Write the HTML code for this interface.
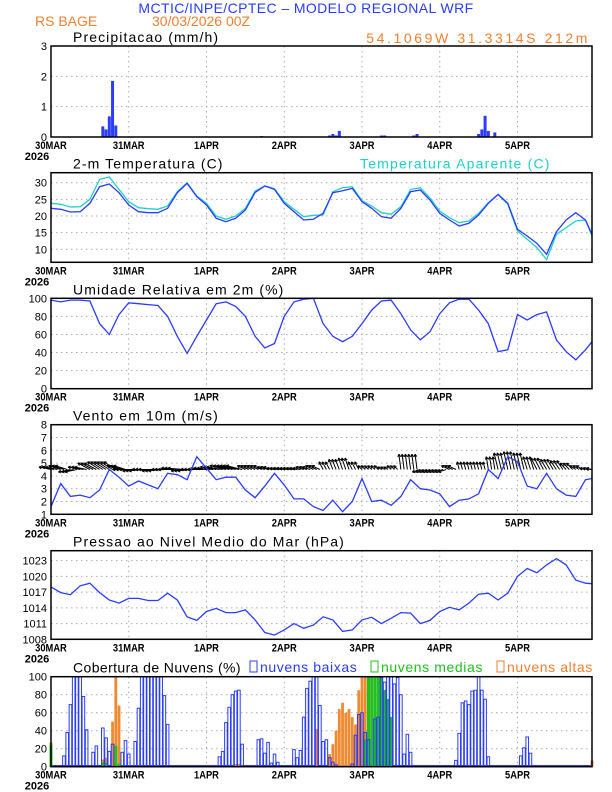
<!DOCTYPE html>
<html><head><meta charset="utf-8"><style>
body{margin:0;background:#fff}
svg{display:block;font-family:"Liberation Sans",sans-serif}
</style></head><body>
<svg id="c" width="612" height="792" xmlns="http://www.w3.org/2000/svg">
<text x="306" y="13" text-anchor="middle" font-size="14" letter-spacing="0.4" fill="#2a3cff">MCTIC/INPE/CPTEC – MODELO REGIONAL WRF</text>
<text x="35" y="26" font-size="14" fill="#f08030">RS BAGE</text>
<text x="152" y="26" font-size="14" fill="#f08030">30/03/2026 00Z</text>
<text x="590" y="43" text-anchor="end" font-size="14" letter-spacing="2.6" fill="#f08030">54.1069W 31.3314S 212m</text>
</svg>
<script>
const precipHours=[16,17,18,19,20,65,86,87,88,89,102,103,112,113,132,133,134,135,137];
const precipVals=[0.35,0.25,0.68,1.85,0.38,0.03,0.05,0.1,0.05,0.2,0.05,0.05,0.05,0.1,0.1,0.25,0.7,0.2,0.15];
const hours3=[0,3,6,9,12,15,18,21,24,27,30,33,36,39,42,45,48,51,54,57,60,63,66,69,72,75,78,81,84,87,90,93,96,99,102,105,108,111,114,117,120,123,126,129,132,135,138,141,144,147,150,153,156,159,162,165,167];
const tempVals=[22.3,22,21.2,21.3,23.8,28.8,29.6,27,23.3,21.3,21,21,22.3,27,29.8,25.8,23.3,19.3,18.3,19.3,21.8,27.1,29,28,23.8,21.3,18.8,19,20.8,27,27.6,28.3,24.3,22.3,19.8,19.3,22.3,27.3,27.8,24.8,20.8,18.8,17,17.8,20.3,23.8,26.5,23.8,16,14,11.8,8.5,15.3,18.8,21,18.8,14.5];
const appTempVals=[23.8,23.5,22.7,22.8,25,31,31.7,28,24.3,22.5,22.2,22,23,27.3,30,26,23.8,20,19,20,22.3,27.5,29,28.2,24.3,22,19.8,20.2,20.3,27.3,28.5,28.8,24.6,23,21,20.5,22.8,28,28.5,25.4,21.5,19.5,18,18.5,20.8,24,26.5,23.5,15.5,13,10.5,6.9,14.5,16.5,18.5,18.8,14];
const humVals=[98,96,98,98,97,72,60,82,95,94,93,92,80,58,39,58,76,94,96,91,80,58,45,50,80,96,99,100,72,58,52,58,72,87,97,98,83,65,54,63,83,95,99,99,87,72,41,43,82,76,82,85,54,41,32,43,52];
const windVals=[1.6,3.4,2.4,2.5,2.3,2.9,4.5,3.9,3.2,3.6,3.3,3.0,4.2,4.1,3.7,5.5,4.6,3.7,3.9,3.9,2.9,2.3,3.2,4.2,3.3,2.2,2.2,1.6,1.3,2.1,1.2,2.0,3.8,2.0,2.1,1.7,2.4,3.7,3.0,2.9,2.6,1.6,2.1,2.2,2.6,4.5,3.8,5.5,5.1,3.2,3.0,4.2,3.0,2.5,2.4,3.7,3.8];
const windU=[-3,-3,-3,-3,-3,-3,-3,-3,-4,-4,-4,-4,-4,-4,-4,-4,-4,-4,-4,-4,-2,-2,-2,-2,-2,-2,-2,-2,-1,-1,-1,-1,-1,-1,-1,-1,-0.5,-0.5,-2,-2,-2,-2,-0.5,-0.5,-0.5,-0.5,-1,-1,-1,-1,-1.5,-1.5,-1.5,-1.5,-1.5,-1.5,-1.5];
const windV=[0.2,0.3,-0.2,0.2,0.5,0.6,0.6,0.3,0,-0.1,0,-0.1,0,0.1,-0.1,0,0.1,0.2,0.3,0.3,0.3,0.3,0.2,0.1,0.1,0.1,0.2,0.3,0.6,0.8,0.9,0.6,0.3,0.3,0.2,0.3,1.2,1.2,-0.2,-0.2,-0.2,0.3,0.6,0.6,0.6,1.0,1.3,1.4,1.3,1.0,0.9,0.8,0.7,0.5,0.3,0.1,0.05];
const presVals=[1018,1016.9,1016.5,1018.2,1018.7,1016.9,1015.5,1014.9,1015.8,1015.8,1015.4,1015.4,1016.8,1015.5,1012.3,1011.6,1013.3,1013.9,1013.1,1013.1,1013.6,1011.7,1009.3,1008.8,1009.8,1011,1010.1,1010.7,1012.3,1011.7,1009.5,1009.8,1011.7,1012.2,1011,1012,1013.1,1013,1011,1011.6,1013.3,1014.1,1013.6,1014.9,1016.6,1016.8,1015.5,1016.8,1020,1021.5,1020.7,1022.2,1023.4,1022.2,1019.3,1018.7,1018.6];
const lowHours=[4,5,6,7,8,9,10,11,12,13,14,16,17,18,19,22,23,24,26,27,28,29,30,31,32,33,34,35,36,52,53,54,55,56,57,58,59,64,65,66,67,68,69,70,75,76,77,78,79,80,81,82,83,84,85,86,87,88,93,94,95,96,97,98,100,101,102,103,104,105,106,107,108,109,110,111,125,126,127,128,129,130,131,132,133,134,135,144,145,146,147,148];
const lowVals=[12,38,69,100,100,100,78,41,1,16,23,43,32,17,25,16,29,14,28,65,100,100,100,100,100,100,100,79,47,11,17,49,66,80,84,85,25,30,31,15,27,4,14,5,19,10,18,55,87,95,100,100,68,28,30,10,5,2,3,35,58,60,38,30,53,55,99,94,100,100,92,99,80,14,36,16,7,37,71,73,69,84,85,100,85,75,11,1,12,21,33,15];
const midHours=[0,16,17,20,21,97,98,99,100,101,102,103,104,105,133];
const midVals=[24,4,4,23,3,30,100,100,100,100,100,85,75,55,1];
const highHours=[0,16,17,19,20,21,57,58,82,86,87,88,89,90,91,92,93,94,95,96,97,98,99,100,167];
const highVals=[27,8,10,50,100,68,3,3,42,14,25,40,64,71,60,64,55,47,85,100,100,100,100,60,7];
const dayLabels=["30MAR","31MAR","1APR","2APR","3APR","4APR","5APR"];
const precipTicks=[0,1,2,3],tempTicks=[10,15,20,25,30],humTicks=[0,20,40,60,80,100],windTicks=[1,2,3,4,5,6,7,8],presTicks=[1008,1011,1014,1017,1020,1023],cloudTicks=[0,20,40,60,80,100];

const svg=document.getElementById('c');const NS='http://www.w3.org/2000/svg';
const X0=51,X1=592,PXH=(X1-X0)/167;
const xs=h=>X0+h*PXH;
function mk(tag,attrs,parent){const e=document.createElementNS(NS,tag);for(const k in attrs)e.setAttribute(k,attrs[k]);(parent||svg).appendChild(e);return e;}
function panel(name,title,top,bot,vmin,vmax,ticks,ls){
  const g=mk('g',{});
  
  
  const ys=v=>bot-(v-vmin)/(vmax-vmin)*(bot-top);
  for(let d=1;d<7;d++){const l=mk('line',{x1:xs(d*24),x2:xs(d*24),y1:top,y2:bot,stroke:'#aaa','stroke-dasharray':'1.5,3.5'},g);
    
    }
  ticks.forEach(t=>{const yy=ys(t);
    if(yy>top+1&&yy<bot-1){const l=mk('line',{x1:X0,x2:X1,y1:yy,y2:yy,stroke:'#aaa','stroke-dasharray':'1.5,3.5'},g);
      
      }
    const tx=mk('text',{x:X0-4,y:yy+4,'text-anchor':'end','font-size':11},g);tx.textContent=t;
    
    
  });
  dayLabels.forEach((d,i)=>{const tx=mk('text',{x:xs(i*24),y:bot+12,'text-anchor':'middle','font-size':11,'font-weight':'bold',transform:`translate(${xs(i*24)},0) scale(0.85,1) translate(${-xs(i*24)},0)`},g);tx.textContent=d;
    
    });
  const yr=mk('text',{x:X0-14,y:bot+23,'text-anchor':'middle','font-size':11,'font-weight':'bold'},g);yr.textContent='2026';
  
  
  const tt=mk('text',{x:73,y:top-4,'font-size':14,'letter-spacing':ls===undefined?1.1:ls},g);tt.textContent=title;
  
  
  return {g,ys,top,bot};
}
function frame(p){const r=mk('rect',{x:X0,y:p.top,width:X1-X0,height:p.bot-p.top,fill:'none',stroke:'#000','stroke-width':1.5},p.g);
  
  }
function line(p,vals,color,name){const d=vals.map((v,i)=>(i?'L':'M')+xs(hours3[i]).toFixed(1)+','+p.ys(v).toFixed(1)).join('');
  const l=mk('path',{d,fill:'none',stroke:color,'stroke-width':1.3},p.g);
  
  }

// precip
const p1=panel('precip','Precipitacao (mm/h)',46,137,0,3,precipTicks);
precipHours.forEach((h,i)=>{const y=p1.ys(precipVals[i]);const r=mk('rect',{x:xs(h)-1.5,y,width:3,height:p1.bot-y,fill:'#2a3cff'},p1.g);
  
  });
frame(p1);
// temp
const p2=panel('temperature','2-m Temperatura (C)',172.7,262.3,6.1,33,tempTicks);
const la=mk('text',{x:360,y:168.7,'font-size':14,'letter-spacing':1.2,fill:'#20d0c8'});la.textContent='Temperatura Aparente (C)';


line(p2,appTempVals,'#20d0c8','apparent-temp-line');
line(p2,tempVals,'#2a3cff','temp-line');
frame(p2);
// humidity
const p3=panel('humidity','Umidade Relativa em 2m (%)',298.3,388.7,0,100,humTicks);
line(p3,humVals,'#2a3cff','humidity-line');frame(p3);
// wind
const p4=panel('wind','Vento em 10m (m/s)',424.7,514.3,1,8,windTicks);
hours3.forEach((h,i)=>{for(let k=0;k<3&&h+k<=167;k++){const x=xs(h+k),y=p4.ys(4.5),x2=x+windU[i]*4,y2=p4.ys(4.5+windV[i]);
  const a=mk('line',{x1:x,y1:y,x2,y2,stroke:'#000','stroke-width':1},p4.g);
  
  
  const ang=Math.atan2(y2-y,x2-x);
  const hd=mk('path',{d:`M${x2},${y2}L${x2-3*Math.cos(ang-0.5)},${y2-3*Math.sin(ang-0.5)}M${x2},${y2}L${x2-3*Math.cos(ang+0.5)},${y2-3*Math.sin(ang+0.5)}`,stroke:'#000',fill:'none'},p4.g);
  
  }});
line(p4,windVals,'#2a3cff','wind-speed-line');
frame(p4);
// pressure
const p5=panel('pressure','Pressao ao Nivel Medio do Mar (hPa)',550.7,639.3,1008,1024.9,presTicks);
line(p5,presVals,'#2a3cff','pressure-line');frame(p5);
// clouds
const p6=panel('clouds','Cobertura de Nuvens (%)',676.7,766.7,0,100,cloudTicks,0.4);
const lg=[['nuvens baixas','#2a3cff',250],['nuvens medias','#20c020',371],['nuvens altas','#f08030',497]];
lg.forEach(([t,c,x])=>{const r=mk('rect',{x,y:661,width:7,height:11,fill:'none',stroke:c});
  
  
  const tx=mk('text',{x:x+10,y:672,'font-size':14,'letter-spacing':0.6,fill:c});tx.textContent=t;
  
  });
const base=mk('line',{x1:X0,x2:X1,y1:766,y2:766,stroke:'#2a3cff','stroke-width':2},p6.g);


highHours.forEach((h,i)=>{const y=p6.ys(highVals[i]);const r=mk('rect',{x:xs(h)-1.4,y,width:2.8,height:p6.bot-y,fill:'#f08a30'},p6.g);
  
  });
midHours.forEach((h,i)=>{const y=p6.ys(midVals[i]);const r=mk('rect',{x:xs(h)-1.2,y,width:2.4,height:p6.bot-y,fill:'#20c020',stroke:'#20c020','stroke-width':0.6},p6.g);
  
  });
lowHours.forEach((h,i)=>{const y=p6.ys(lowVals[i]);const r=mk('rect',{x:xs(h)-1.3,y,width:2.6,height:p6.bot-y,fill:'none',stroke:'#2a3cff','stroke-width':1},p6.g);
  
  });
frame(p6);
</script>
</body></html>
